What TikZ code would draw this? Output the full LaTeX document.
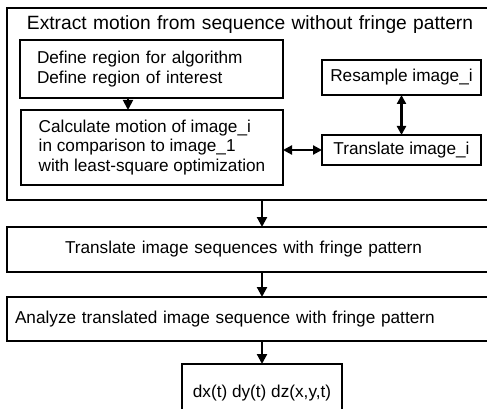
\documentclass[tikz,border=0pt]{standalone}
\usepackage{fontspec}
\setmainfont{Liberation Sans}
\usetikzlibrary{arrows.meta, positioning}

\begin{document}
\begin{tikzpicture}[x=1pt, y=-1pt,
  box/.style={rectangle, draw, line width=1.3pt, inner sep=0pt, outer sep=0pt,
    anchor=north west, align=left, font=\fontsize{17.2}{19.5}\selectfont},
  wide/.style={rectangle, draw, line width=2.8pt, inner sep=0pt, outer sep=0pt,
    anchor=north west, align=left, font=\fontsize{17.2}{20}\selectfont},
  arr/.style={-{Triangle[length=10pt, width=10pt]}, line width=2.2pt},
  dbl/.style={{Triangle[length=9pt, width=9pt]}-{Triangle[length=9pt, width=9pt]}, line width=2.2pt}
]
\useasboundingbox (0,0) rectangle (487,409);

% first stage, cut off at the right like the original
\node[wide, inner xsep=20pt, text width=480pt, text height=22pt, text depth=170pt,
  font=\fontsize{19.2}{24}\selectfont] (outer) at (7,8)
  {Extract motion from sequence without fringe pattern};
\node[box, inner xsep=17pt, text width=229pt, minimum height=58pt] (define) at (20,40)
  {Define region for algorithm\\Define region of interest};
\node[box, minimum width=262pt, minimum height=75pt] (calc) at (21,110)
  {Calculate motion of image\_i\\in comparison to image\_1\\with least-square optimization};
\node[box, align=center, minimum width=159pt, minimum height=35pt] (resample) at (322,60)
  {Resample image\_i};
\node[box, align=center, minimum width=159pt, minimum height=30pt] (translate) at (322,135)
  {Translate image\_i};

% later stages
\node[wide, inner xsep=58pt, text width=420pt, minimum height=45pt] (seq) at (7,227)
  {Translate image sequences with fringe pattern};
\node[wide, inner xsep=8pt, text width=480pt, minimum height=44pt] (analyze) at (7,297)
  {Analyze translated image sequence with fringe pattern};
\node[box, line width=1.5pt, align=center, minimum width=160pt, minimum height=58pt] (result) at (182,364)
  {dx(t) dy(t) dz(x,y,t)};

\draw[arr, line width=1.8pt] ([xshift=-23.5pt]define.south) -- ([xshift=-24pt]calc.north);
\draw[dbl] (calc.east |- translate) -- (translate.west);
\draw[dbl] (resample.south) -- (translate.north);
\draw[arr] (outer.south -| result.north) -- (seq.north -| result.north);
\draw[arr] (seq.south -| result.north) -- (analyze.north -| result.north);
\draw[arr] (analyze.south -| result.north) -- (result.north);
\end{tikzpicture}
\end{document}
